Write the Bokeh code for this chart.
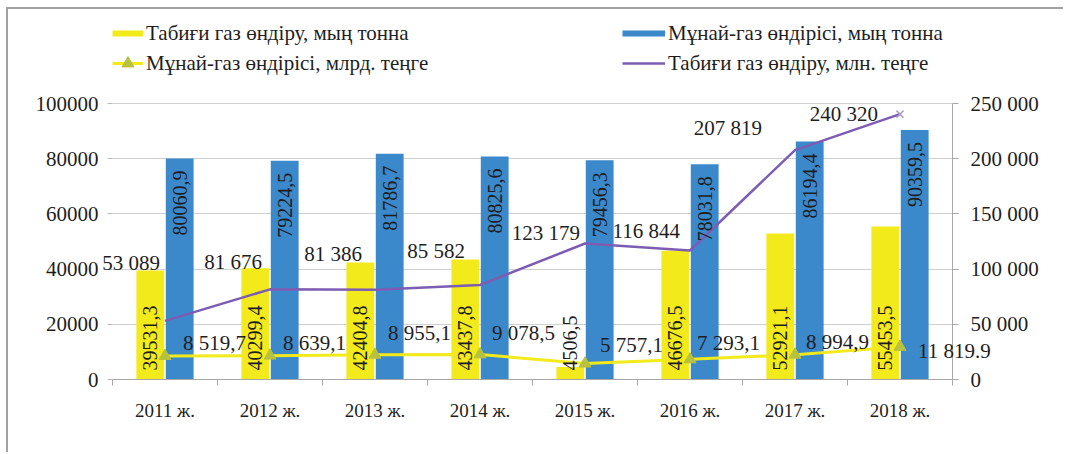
import math
from bokeh.plotting import figure
from bokeh.models import Range1d, LinearAxis, FixedTicker, ColumnDataSource, Legend, LegendItem
from bokeh.transform import dodge
from bokeh.core.properties import value
from bokeh.embed import file_html
from bokeh.resources import INLINE

# ---------------- data ----------------
years = ["2011 ж.", "2012 ж.", "2013 ж.", "2014 ж.", "2015 ж.", "2016 ж.", "2017 ж.", "2018 ж."]
gas_kt = [39531.3, 40299.4, 42404.8, 43437.8, 4506.5, 46676.5, 52921.1, 55453.5]
oilgas_kt = [80060.9, 79224.5, 81786.7, 80825.6, 79456.3, 78031.8, 86194.4, 90359.5]
oilgas_bn = [8519.7, 8639.1, 8955.1, 9078.5, 5757.1, 7293.1, 8994.9, 11819.9]
gas_mn = [53089, 81676, 81386, 85582, 123179, 116844, 207819, 240320]

gas_kt_labels = ["39531,3", "40299,4", "42404,8", "43437,8", "4506,5", "46676,5", "52921,1", "55453,5"]
oilgas_kt_labels = ["80060,9", "79224,5", "81786,7", "80825,6", "79456,3", "78031,8", "86194,4", "90359,5"]
oilgas_bn_labels = ["8 519,7", "8 639,1", "8 955,1", "9 078,5", "5 757,1", "7 293,1", "8 994,9", "11 819.9"]
gas_mn_labels = ["53 089", "81 676", "81 386", "85 582", "123 179", "116 844", "207 819", "240 320"]

left_ticks = [0, 20000, 40000, 60000, 80000, 100000]
left_tick_labels = ["0", "20000", "40000", "60000", "80000", "100000"]
right_ticks = [0, 50000, 100000, 150000, 200000, 250000]
right_tick_labels = ["0", "50 000", "100 000", "150 000", "200 000", "250 000"]

series_names = [
    "Табиғи газ өндіру, мың тонна",
    "Мұнай-газ өндірісі, мың тонна",
    "Мұнай-газ өндірісі, млрд. теңге",
    "Табиғи газ өндіру, млн. теңге",
]

# ---------------- styles / label placement (pixels) ----------------
YELLOW = "#f3ea1b"
BLUE = "#3b88cb"
PURPLE = "#7d5cb3"
TRI = "#b9c23e"
TXT = "#1e1e1e"
FONT = value("Liberation Serif")
bn_dx = [18, 13, 13, 12, 15, 7, 11, 18]
bn_dy = [-13, -13, -22, -21, -19, -16, -13, 4]
mn_dx = [-5, -8, -13, -15, -5, -10, -33, -22]
mn_dy = [-58, -27, -36, -34, -11, -20, -22, 0]

# plot frame: value axes occupy the lower 276 px of a 368 px tall frame,
# the legend sits in the upper part
LEFT_MAX = max(left_ticks)
RIGHT_MAX = max(right_ticks)
FRAME_RATIO = 368 / 276

xs = [i + 1 for i in range(len(years))]
src = ColumnDataSource(dict(
    x=xs, gas_kt=gas_kt, oilgas_kt=oilgas_kt, oilgas_bn=oilgas_bn, gas_mn=gas_mn,
    gas_kt_lbl=gas_kt_labels, oilgas_kt_lbl=oilgas_kt_labels,
    bn_lbl=oilgas_bn_labels, mn_lbl=gas_mn_labels,
    bn_dx=bn_dx, bn_dy=bn_dy, mn_dx=mn_dx, mn_dy=mn_dy,
))

p = figure(width=1057, height=445, output_backend="svg", toolbar_location=None,
           x_range=Range1d(0.5, len(years) + 0.5),
           y_range=Range1d(0, LEFT_MAX * FRAME_RATIO),
           min_border_left=104, min_border_right=113, min_border_top=2, min_border_bottom=75)
p.styles = {"margin-left": "6px", "margin-top": "7px",
            "border-left": "2px solid #a3a3a3", "border-top": "2px solid #a3a3a3"}
p.outline_line_color = None
p.background_fill_color = "white"
p.border_fill_color = "white"
p.extra_y_ranges = {"r": Range1d(0, RIGHT_MAX * FRAME_RATIO)}

# axes
ya = p.yaxis[0]
ya.ticker = FixedTicker(ticks=left_ticks)
ya.bounds = (0, LEFT_MAX)
ya.major_label_overrides = {t: l for t, l in zip(left_ticks, left_tick_labels)}
ya.axis_line_color = None
ya.major_tick_line_color = "#b8b8b8"
ya.major_tick_out = 5
ya.major_tick_in = 0
ya.minor_tick_line_color = None
ya.major_label_text_font = "Liberation Serif"
ya.major_label_text_font_size = "21px"
ya.major_label_text_color = TXT
ya.major_label_standoff = 9

ra = LinearAxis(y_range_name="r", ticker=FixedTicker(ticks=right_ticks), bounds=(0, RIGHT_MAX),
                major_label_overrides={t: l for t, l in zip(right_ticks, right_tick_labels)})
ra.axis_line_color = "#a8a8a8"
ra.major_tick_line_color = "#a8a8a8"
ra.major_tick_out = 6
ra.major_tick_in = 0
ra.minor_tick_line_color = None
ra.major_label_text_font = "Liberation Serif"
ra.major_label_text_font_size = "21px"
ra.major_label_text_color = TXT
ra.major_label_standoff = 12
p.add_layout(ra, "right")

xa = p.xaxis[0]
xa.ticker = FixedTicker(ticks=xs, minor_ticks=[v - 0.5 for v in xs] + [xs[-1] + 0.5])
xa.major_label_overrides = {v: y for v, y in zip(xs, years)}
xa.axis_line_color = "#a8a8a8"
xa.major_tick_out = 0
xa.major_tick_in = 0
xa.minor_tick_line_color = "#a8a8a8"
xa.minor_tick_out = 6
xa.minor_tick_in = 0
xa.major_label_text_font = "Liberation Serif"
xa.major_label_text_font_size = "19px"
xa.major_label_text_color = TXT
xa.major_label_standoff = 14

p.xgrid.visible = False
p.ygrid.ticker = FixedTicker(ticks=left_ticks)
p.ygrid.grid_line_color = "#d0d0d0"

# bars
p.vbar(x=dodge("x", -0.14), top="gas_kt", width=0.265, source=src,
       fill_color=YELLOW, line_color=None)
p.vbar(x=dodge("x", 0.14), top="oilgas_kt", width=0.265, source=src,
       fill_color=BLUE, line_color=None)

# lines
yl = p.line("x", "oilgas_bn", source=src, line_color=YELLOW, line_width=3)
yt = p.scatter("x", "oilgas_bn", source=src, marker="triangle", size=12,
               fill_color=TRI, line_color=TRI)
pl = p.line("x", "gas_mn", source=src, y_range_name="r", line_color=PURPLE, line_width=2.5)
p.scatter(x=[xs[-1]], y=[gas_mn[-1]], y_range_name="r", marker="x", size=10,
          line_color="#a99cc8", line_width=1.5)

# bar labels
p.text(x=dodge("x", -0.14), y=0, text="gas_kt_lbl", source=src, angle=math.pi / 2,
       text_align="left", text_baseline="middle", y_offset=-9,
       text_font=FONT, text_font_size="20px", text_color=TXT, level="overlay")
p.text(x=dodge("x", 0.14), y="oilgas_kt", text="oilgas_kt_lbl", source=src, angle=math.pi / 2,
       text_align="right", text_baseline="middle", y_offset=12,
       text_font=FONT, text_font_size="20px", text_color=TXT, level="overlay")

# line labels
p.text(x="x", y="oilgas_bn", text="bn_lbl", source=src, x_offset="bn_dx", y_offset="bn_dy",
       text_align="left", text_baseline="middle",
       text_font=FONT, text_font_size="21px", text_color=TXT, level="overlay")
p.text(x="x", y="gas_mn", text="mn_lbl", source=src, y_range_name="r",
       x_offset="mn_dx", y_offset="mn_dy", text_align="right", text_baseline="middle",
       text_font=FONT, text_font_size="21px", text_color=TXT, level="overlay")

# legend swatches for the bar series (invisible in the plot, drawn only in the legend)
nan = float("nan")
sw_y = p.line(x=[xs[0], xs[1]], y=[nan, nan], line_color=YELLOW, line_width=6)
sw_b = p.line(x=[xs[0], xs[1]], y=[nan, nan], line_color=BLUE, line_width=6)


def make_legend(items, loc, gw):
    return Legend(items=items, location=loc, orientation="vertical",
                  glyph_width=gw, glyph_height=30, label_height=30,
                  spacing=0, padding=0, margin=0, label_standoff=3,
                  border_line_color=None, background_fill_alpha=0,
                  label_text_font="Liberation Serif", label_text_font_size="21px",
                  label_text_color=TXT, label_text_baseline="middle")


leg1 = make_legend([LegendItem(label=series_names[0], renderers=[sw_y]),
                    LegendItem(label=series_names[2], renderers=[yl, yt])], (0, 301), 31)
leg2 = make_legend([LegendItem(label=series_names[1], renderers=[sw_b]),
                    LegendItem(label=series_names[3], renderers=[pl])], (510, 301), 43)
p.add_layout(leg1)
p.add_layout(leg2)

open("out.html", "w").write(file_html(p, INLINE))
